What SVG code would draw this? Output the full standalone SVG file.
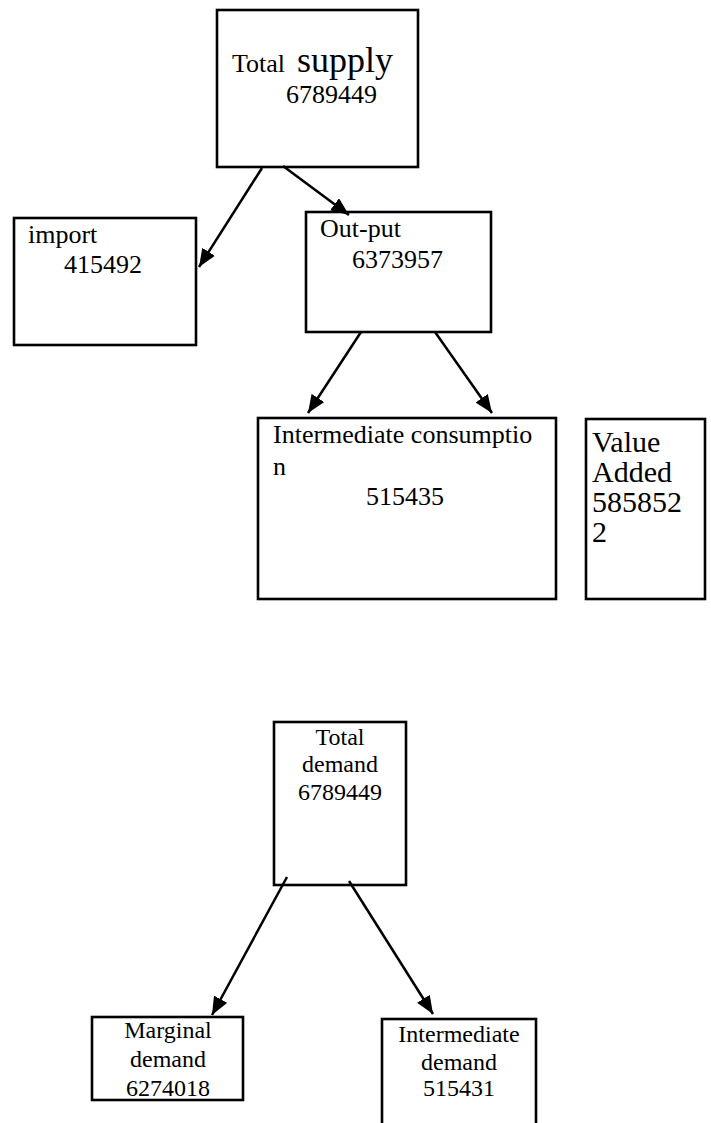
<svg xmlns="http://www.w3.org/2000/svg" width="711" height="1123" viewBox="0 0 711 1123">
<style>
.box{fill:#fff;stroke:#000;stroke-width:2.6}
.t{font-family:"Liberation Serif","Times New Roman",serif;fill:#000;font-size:26px}
.s{font-size:24px}
.c{text-anchor:middle}
.va{font-size:30px}
.big{font-size:36px}
.edge{stroke:#000;stroke-width:2.5;fill:none;marker-end:url(#ah)}
</style>
<defs>
<marker id="ah" markerUnits="userSpaceOnUse" markerWidth="19" markerHeight="16" refX="18" refY="7.5" orient="auto">
<path d="M0,0 L18,7.5 L0,15 z" fill="#000"/>
</marker>
</defs>
<rect width="711" height="1123" fill="#fff"/>
<g id="total-supply">
<rect class="box" x="217" y="10" width="201" height="157"/>
<text class="t" x="232" y="72">Total</text>
<text class="t big" x="297" y="72">supply</text>
<text class="t" x="286" y="103">6789449</text>
</g>
<g id="import">
<rect class="box" x="14" y="218" width="182" height="127"/>
<text class="t" x="28" y="243">import</text>
<text class="t" x="64" y="273">415492</text>
</g>
<g id="output">
<rect class="box" x="306" y="212" width="185" height="120"/>
<text class="t" x="320" y="237">Out-put</text>
<text class="t" x="352" y="268">6373957</text>
</g>
<g id="intermediate-consumption">
<rect class="box" x="258" y="418" width="298" height="181"/>
<text class="t" x="273" y="443">Intermediate consumptio</text>
<text class="t" x="273" y="475">n</text>
<text class="t" x="366" y="505">515435</text>
</g>
<g id="value-added">
<rect class="box" x="586" y="419" width="119" height="180"/>
<text class="t va" x="592" y="452">Value</text>
<text class="t va" x="592" y="482">Added</text>
<text class="t va" x="592" y="512">585852</text>
<text class="t va" x="592" y="542">2</text>
</g>
<g id="total-demand">
<rect class="box" x="274" y="722" width="132" height="163"/>
<text class="t s c" x="340" y="745">Total</text>
<text class="t s c" x="340" y="772">demand</text>
<text class="t s c" x="340" y="800">6789449</text>
</g>
<g id="marginal-demand">
<rect class="box" x="92" y="1017" width="151" height="83"/>
<text class="t s c" x="168" y="1038">Marginal</text>
<text class="t s c" x="168" y="1067">demand</text>
<text class="t s c" x="168" y="1096">6274018</text>
</g>
<g id="intermediate-demand">
<rect class="box" x="382" y="1019" width="154" height="130"/>
<text class="t s c" x="459" y="1042">Intermediate</text>
<text class="t s c" x="459" y="1070">demand</text>
<text class="t s c" x="459" y="1096">515431</text>
</g>
<g id="connectors">
<line class="edge" x1="262" y1="168" x2="199" y2="267"/>
<line class="edge" x1="283" y1="166" x2="349" y2="215"/>
<line class="edge" x1="361" y1="332" x2="308" y2="413"/>
<line class="edge" x1="435" y1="332" x2="492" y2="413"/>
<line class="edge" x1="287" y1="877" x2="212" y2="1015"/>
<line class="edge" x1="349" y1="881" x2="433" y2="1014"/>
</g>
</svg>
